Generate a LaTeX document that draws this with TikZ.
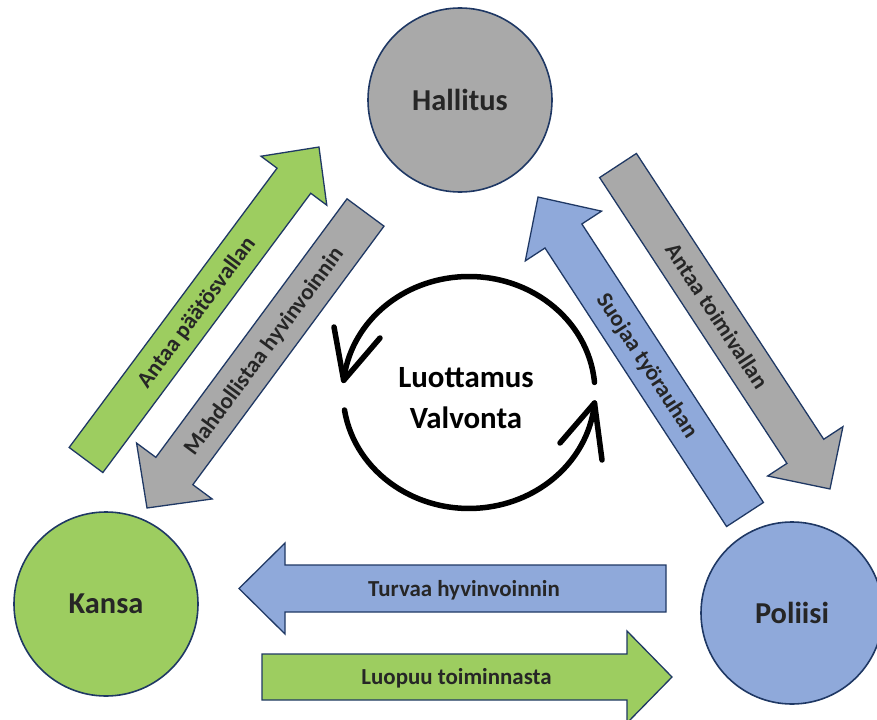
\documentclass[tikz,border=0pt]{standalone}
\usepackage{fontspec}
\setmainfont{Carlito}
\definecolor{cgray}{HTML}{A9A9A9}
\definecolor{cgreen}{HTML}{9DCD60}
\definecolor{cblue}{HTML}{8FA9DA}
\definecolor{navy}{HTML}{1F3864}
\definecolor{txt}{HTML}{262626}
\tikzset{
 circ/.style={circle, draw=navy, line width=1.6bp, minimum size=184bp, inner sep=0pt, text=txt, font=\fontsize{30.5}{36}\selectfont\bfseries},
 blk/.style={draw=navy, line width=1.3bp, line join=miter},
 lbl/.style={text=txt, font=\fontsize{23}{27}\selectfont\bfseries, inner sep=0pt, anchor=base},
 cyc/.style={line width=5.5bp, black, line cap=round, line join=round},
 midtxt/.style={text=black, font=\fontsize{31}{36}\selectfont\bfseries, anchor=base, inner sep=0pt}
}
% #1 fill, #2 tail x, #3 tail y, #4 tip x, #5 tip y, #6 shaft half width, #7 head half width, #8 head length
\newcommand\blockarrow[8]{%
  \pgfmathsetmacro\barang{atan2((#3)-(#5),(#4)-(#2))}%
  \pgfmathsetmacro\barlen{veclen((#4)-(#2),(#3)-(#5))}%
  \pgfmathsetmacro\barS{\barlen-#8}%
  \def\bartx{#2}\def\barty{#3}%
  \begin{scope}[shift={(#2,#3)}, rotate=\barang]
    \draw[blk, fill=#1] (0,-#6) -- (\barS,-#6) -- (\barS,-#7) -- (\barlen,0) -- (\barS,#7) -- (\barS,#6) -- (0,#6) -- cycle;
  \end{scope}}
% #1 name, #2 rotation offset, #3 position along, #4 perpendicular, #5 text
\newcommand\arrowlabel[5]{%
  \begin{scope}[shift={(\bartx,\barty)}, rotate=\barang]
    \node[lbl, rotate=\barang+#2] (#1) at (#3,#4) {#5};
  \end{scope}}
\begin{document}
\begin{tikzpicture}[x=1bp,y=-1bp]
\useasboundingbox (0,0) rectangle (877,720);
\clip (0,0) rectangle (877,720);

\node[circ, fill=cgray] (hallitus) at (460,100) {Hallitus};
\node[circ, fill=cgreen] (kansa) at (106,604) {Kansa};
\node[circ, fill=cblue, minimum size=182bp] (poliisi) at (792,613) {Poliisi};

\blockarrow{cgreen}{86}{460}{319}{147}{21}{41}{42}
\arrowlabel{l1}{0}{184}{7.5}{Antaa päätösvallan}
\blockarrow{cgray}{365.5}{212.5}{147}{508}{23}{47}{46}
\arrowlabel{l2}{180}{172}{-7.5}{Mahdollistaa hyvinvoinnin}
\blockarrow{cgray}{618}{165.5}{830}{489}{22}{45}{45}
\arrowlabel{l3}{0}{180}{7.5}{Antaa toimivallan}
\blockarrow{cblue}{745}{514.5}{538}{197}{22}{45.5}{46.5}
\arrowlabel{l4}{180}{178}{-7.5}{Suojaa työrauhan}
\blockarrow{cblue}{666}{588.5}{239}{588.5}{23.5}{45.5}{46}
\arrowlabel{l5}{180}{202}{-7.5}{Turvaa hyvinvoinnin}
\blockarrow{cgreen}{262}{677}{672}{677}{23}{46}{45}
\arrowlabel{l6}{0}{194.5}{7.5}{Luopuu toiminnasta}

\draw[cyc] (594.5,382.4) arc[start angle=-5, end angle=-174, x radius=126, y radius=116];
\draw[cyc] (334,327) -- (343.7,380.4) -- (380,338);
\draw[cyc] (344.5,410) arc[start angle=171.3, end angle=5.2, x radius=126, y radius=116];
\draw[cyc] (560,443) -- (594.5,403) -- (602,460);

\node[midtxt] (luottamus) at (466,387) {Luottamus};
\node[midtxt] (valvonta) at (466,428) {Valvonta};
\end{tikzpicture}
\end{document}
